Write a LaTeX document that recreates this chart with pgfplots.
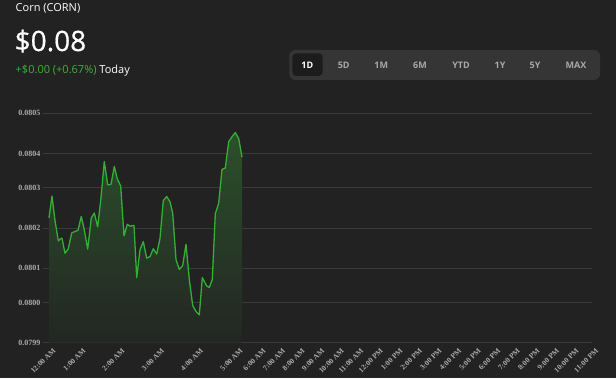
\documentclass[border=0pt]{standalone}
\usepackage{pgfplots}
\pgfplotsset{compat=1.18}
\usepackage{fontspec}
\setmainfont{Open Sans}
\newfontfamily\bigfont{Open Sans}[FakeBold=0.6]
\newfontfamily\tickfont{Liberation Serif}
\definecolor{bg}{HTML}{222222}
\definecolor{gridc}{HTML}{3A3A3A}
\definecolor{linec}{HTML}{33B033}
\definecolor{ftop}{HTML}{2B502B}
\definecolor{fbot}{HTML}{232623}
\definecolor{tickc}{HTML}{ABABAB}
\definecolor{btnbar}{HTML}{353535}
\definecolor{btnsel}{HTML}{1C1C1C}
\definecolor{btntxt}{HTML}{A8A8A8}
\definecolor{gtxt}{HTML}{3FAF3F}
\begin{document}
\begin{tikzpicture}[x=1pt,y=1pt]
\path[use as bounding box] (0,0) rectangle (616,378);
\fill[bg] (0,0) rectangle (616,378);
% header
\node[anchor=base west, inner sep=0, text=white, font=\fontsize{11}{12}\selectfont] at (15.5,366) {Corn (CORN)};
\node[anchor=base west, inner sep=0, text=white, font=\bigfont\fontsize{28}{32}\selectfont] at (14.5,327) {\$0.08};
\node[anchor=base west, inner sep=0, font=\fontsize{11}{12}\selectfont] at (15.5,304) {\textcolor{gtxt}{+\$0.00 (+0.67\%)} \textcolor{white}{Today}};
% range buttons
\fill[btnbar, rounded corners=6] (289.3,298) rectangle (600,328);
\fill[btnsel, rounded corners=4] (292.3,302) rectangle (322.7,324.7);
\foreach \lab/\xx in {5D/343.7,1M/381.3,6M/420,YTD/461,1Y/500,5Y/535,MAX/576}{
  \node[text=btntxt, font=\bfseries\fontsize{9}{10}\selectfont, inner sep=0] at (\xx,312.3) {\lab};
}
\node[text=white, font=\bfseries\fontsize{9}{10}\selectfont, inner sep=0] at (307.3,312.3) {1D};
\begin{axis}[
  at={(43pt,35.3pt)}, anchor=south west,
  scale only axis, width=549pt, height=229.4pt,
  y coord trafo/.code={\pgfmathparse{(#1-0.0799)*10000}},
  xmin=43, xmax=592, ymin=0.0799, ymax=0.0805,
  axis line style={draw=none},
  major tick length=0pt,
  ymajorgrids, grid style={gridc, line width=0.8pt},
  ytick={0.0799,0.08,0.0801,0.0802,0.0803,0.0804,0.0805},
  yticklabels={0.0799,0.0800,0.0801,0.0802,0.0803,0.0804,0.0805},
  xtick={49,79,118,157.5,196.5,236,259,278.6,298.1,317.7,337.3,356.9,376.4,396,415.5,435.1,454.7,474.3,493.8,513.4,533,552.6,572.1,591.7},
  xticklabels={12:00 AM,1:00 AM,2:00 AM,3:00 AM,4:00 AM,5:00 AM,6:00 AM,7:00 AM,8:00 AM,9:00 AM,10:00 AM,11:00 AM,12:00 PM,1:00 PM,2:00 PM,3:00 PM,4:00 PM,5:00 PM,6:00 PM,7:00 PM,8:00 PM,9:00 PM,10:00 PM,11:00 PM},
  yticklabel style={text=tickc, font=\tickfont\bfseries\fontsize{8}{9}\selectfont, anchor=east, inner sep=1pt, xshift=-1.5pt},
  xticklabel style={text=tickc, font=\tickfont\bfseries\fontsize{7.5}{8}\selectfont, rotate=45, anchor=north east, inner sep=1pt, yshift=-5pt},
  /pgf/number format/assume math mode=true,
  clip=false,
]
\pgfplotstableread{
x y
49 0.0802323
52 0.080290
55 0.080225
58.3 0.080171
60.7 0.080177
62 0.080178
65 0.080138
68.3 0.080150
71.7 0.080192
75 0.080196
78 0.080199
81.3 0.080236
84 0.080204
87.7 0.080149
91.3 0.080232
94.3 0.080245
97.7 0.080208
101 0.080286
104.3 0.080382
107.7 0.080320
111 0.080321
114.3 0.080369
117.3 0.080336
120.7 0.080317
124 0.080184
127.3 0.080215
130 0.080210
134 0.080212
136.7 0.080073
140 0.080147
143.3 0.080169
146.7 0.080125
150 0.080129
153.3 0.080150
156.7 0.080136
160 0.080177
163.3 0.080278
166.7 0.080289
170 0.080275
172.7 0.080245
176 0.080121
179.3 0.080095
182.7 0.080105
186 0.080162
189.3 0.080068
192.7 0.079999
196 0.079983
199.3 0.079974
202.3 0.080073
206.7 0.080051
209.3 0.080047
212.3 0.080068
215.3 0.080243
218.7 0.080271
222 0.080361
225.3 0.080365
228.7 0.080435
232 0.080448
235.3 0.080459
238.7 0.080443
242 0.080394
}\corn
\addplot[draw=none, top color=ftop, bottom color=fbot, forget plot] table {\corn} \closedcycle;
\addplot[linec, line width=1.3pt, line join=round] table {\corn};
\end{axis}
\end{tikzpicture}
\end{document}
